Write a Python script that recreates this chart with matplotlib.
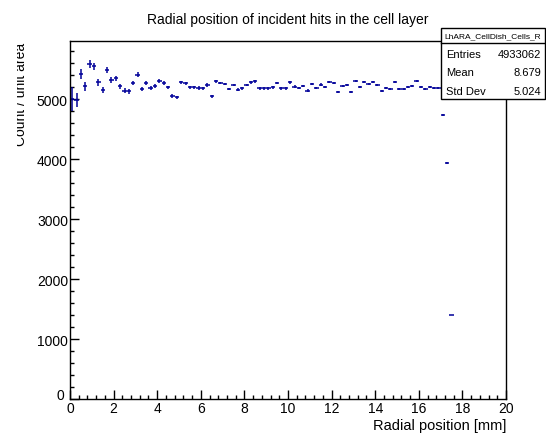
import numpy as np
import matplotlib
matplotlib.use("Agg")
import matplotlib.pyplot as plt
from matplotlib.ticker import MultipleLocator, FuncFormatter
from matplotlib.transforms import Bbox, TransformedBbox

plt.rcParams['font.family'] = ['Liberation Sans', 'DejaVu Sans']

# histogram: 0.2 mm bins, counts per unit area
bin_width = 0.2
counts = [5000, 4980, 5417, 5212, 5585, 5545, 5278, 5150, 5490, 5322,
          5345, 5212, 5140, 5128, 5270, 5406, 5167, 5262, 5184, 5222,
          5295, 5262, 5195, 5055, 5028, 5278, 5262, 5195, 5195, 5185,
          5178, 5233, 5045, 5295, 5267, 5250, 5167, 5233, 5155, 5178,
          5233, 5278, 5295, 5178, 5178, 5178, 5195, 5267, 5178, 5178,
          5278, 5206, 5184, 5212, 5140, 5250, 5184, 5240, 5195, 5278,
          5262, 5123, 5212, 5233, 5123, 5295, 5195, 5278, 5250, 5278,
          5233, 5140, 5184, 5167, 5278, 5160, 5167, 5195, 5222, 5306,
          5195, 5167, 5195, 5178, 5178, 4735, 3930, 1400]
errors = [203, 117, 91, 77, 68, 61, 56, 52, 49, 47, 44, 42, 41, 39, 38, 36, 35, 34, 33, 33,
          32, 31, 30, 30, 29, 28, 28, 27, 27, 27, 26, 26, 25, 25, 24, 24, 24, 23, 23, 23,
          22, 22, 22, 22, 21, 21, 21, 21, 20, 20, 20, 20, 20, 19, 19, 19, 19, 19, 19, 18,
          18, 18, 18, 18, 18, 18, 17, 17, 17, 17, 17, 17, 17, 17, 16, 16, 16, 16, 16, 16,
          16, 16, 16, 16, 16, 15, 13, 8]
centres = np.arange(len(counts)) * bin_width + bin_width / 2

hist_name = "LhARA_CellDish_Cells_R"
stats = [("Entries", "4933062"), ("Mean", "8.679"), ("Std Dev", "5.024")]

W, H = 546, 435
fig = plt.figure(figsize=(W / 100, H / 100), dpi=100)
ax = fig.add_axes([70 / W, 1 - 400 / H, 436 / W, 358 / H])

ax.errorbar(centres, counts, xerr=bin_width / 2, yerr=errors, fmt='none',
            ecolor='#000099', elinewidth=1.1, capsize=0)

ax.set_xlim(0, 20)
ax.set_ylim(0, 5967)
ax.xaxis.set_major_locator(MultipleLocator(2))
ax.xaxis.set_minor_locator(MultipleLocator(0.4))
ax.yaxis.set_major_locator(MultipleLocator(1000))
ax.yaxis.set_minor_locator(MultipleLocator(200))
# y "0" is drawn by hand below, ROOT puts it a bit higher than the others
ax.yaxis.set_major_formatter(FuncFormatter(lambda v, p: '' if v == 0 else '%d' % v))
ax.tick_params(which='both', direction='in', top=False, right=False,
               labelsize=10, width=1)
ax.tick_params(which='major', length=6.5, pad=1.5)
ax.tick_params(which='minor', length=3.2)
for s in ax.spines.values():
    s.set_linewidth(1)

ax.annotate('0', xy=(0, 0), xycoords='axes fraction', xytext=(-4.3, 3.2),
            textcoords='offset points', ha='right', va='center', fontsize=10)

ax.set_xlabel("Radial position [mm]", fontsize=10.5, loc='right', labelpad=2)

# y label, cut at the left edge like in the ROOT canvas
yl = fig.text(25 / W, 1 - 43 / H, "Count / unit area", rotation=90,
              rotation_mode='anchor', ha='right', va='baseline', fontsize=10)
yl.set_clip_box(TransformedBbox(Bbox([[17 / W, 0], [1, 1]]), fig.transFigure))
yl.set_clip_on(True)

fig.text(288 / W, 1 - 20 / H, "Radial position of incident hits in the cell layer",
         ha='center', va='center', fontsize=10)

# stats box
bx0, bx1 = 441 / W, 545 / W
by_top, by_mid, by_bot = 1 - 29 / H, 1 - 44 / H, 1 - 100 / H
box = plt.Rectangle((bx0, by_bot), bx1 - bx0, by_top - by_bot, transform=fig.transFigure,
                    facecolor='white', edgecolor='black', lw=1, zorder=5)
fig.add_artist(box)
fig.add_artist(plt.Line2D([bx0, bx1], [by_mid, by_mid], transform=fig.transFigure,
                          color='black', lw=1, zorder=6))
fig.text((bx0 + bx1) / 2, (by_top + by_mid) / 2, hist_name, ha='center', va='center',
         fontsize=6, zorder=7)
for i, (k, v) in enumerate(stats):
    yy = 1 - (55 + i * 18.5) / H
    fig.text(446 / W, yy, k, ha='left', va='center', fontsize=8, zorder=7)
    fig.text(541 / W, yy, v, ha='right', va='center', fontsize=8, zorder=7)

fig.savefig("out.png", dpi=100)
